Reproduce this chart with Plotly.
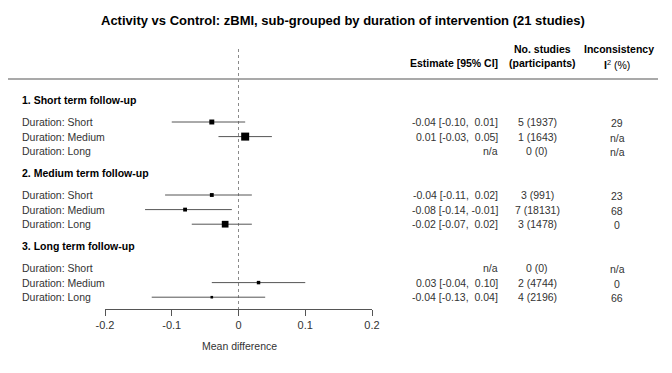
import plotly.graph_objects as go

# ---------------- data ----------------
title = "Activity vs Control: zBMI, sub-grouped by duration of intervention (21 studies)"
groups = ["1. Short term follow-up", "2. Medium term follow-up", "3. Long term follow-up"]
durations = ["Duration: Short", "Duration: Medium", "Duration: Long"]
estimate = [[-0.04, 0.01, None], [-0.04, -0.08, -0.02], [None, 0.03, -0.04]]
ci_low = [[-0.10, -0.03, None], [-0.11, -0.14, -0.07], [None, -0.04, -0.13]]
ci_high = [[0.01, 0.05, None], [0.02, -0.01, 0.02], [None, 0.10, 0.04]]
n_studies = [[5, 1, 0], [3, 7, 3], [0, 2, 4]]
participants = [[1937, 1643, 0], [991, 18131, 1478], [0, 4744, 2196]]
i_squared = [["29", "n/a", "n/a"], ["23", "68", "0"], ["n/a", "0", "66"]]
tick_values = [-0.2, -0.1, 0, 0.1, 0.2]
tick_labels = ["-0.2", "-0.1", "0", "0.1", "0.2"]

# ---------------- layout helpers ----------------
W, H = 672, 373
OFF = 8                    # page body margin of the html wrapper
AXIS_Y = 309               # page pixel row of the x axis line
PLOT_BOTTOM = AXIS_Y - OFF
FONT = "Liberation Sans, Arial, sans-serif"
TXT = "#333333"
FS = 10.5
NB = "\u00a0"

def px(xpage):
    return (xpage - OFF) / W

def py(ypage):
    return (PLOT_BOTTOM - (ypage - OFF)) / PLOT_BOTTOM

def yd(ypage):
    return ypage - OFF

def header_y(g):
    return 100 + 73 * g

def row_y(g, i):
    return header_y(g) + 22 + 14.6 * i

def fmt(v):
    s = f"{v:.2f}"
    return s if v < 0 else NB + s

fig = go.Figure()

# zero reference line
fig.add_trace(go.Scatter(x=[0, 0], y=[yd(49), PLOT_BOTTOM], mode="lines",
                         line=dict(color="#8a8a8a", width=1, dash="dot"),
                         hoverinfo="skip", showlegend=False))

annotations = []
for g, gname in enumerate(groups):
    annotations.append(dict(x=px(20), y=py(header_y(g)), xref="paper", yref="paper",
                            text=f"<b>{gname}</b>",
                            xanchor="left", yanchor="middle", showarrow=False,
                            font=dict(size=FS, color="black", family=FONT)))
    for i, dname in enumerate(durations):
        y = row_y(g, i)
        annotations.append(dict(x=px(20), y=py(y), xref="paper", yref="paper", text=dname,
                                xanchor="left", yanchor="middle", showarrow=False,
                                font=dict(size=FS, color=TXT, family=FONT)))
        e, lo, hi = estimate[g][i], ci_low[g][i], ci_high[g][i]
        if e is None:
            est_txt = "n/a"
        else:
            est_txt = f"{fmt(e)} [{lo:.2f}, {fmt(hi)}]"
            width = hi - lo
            size = 0.181 / width ** 1.5
            fig.add_trace(go.Scatter(x=[lo, hi], y=[yd(y), yd(y)], mode="lines",
                                     line=dict(color="#555555", width=1),
                                     hoverinfo="skip", showlegend=False))
            fig.add_trace(go.Scatter(x=[e], y=[yd(y)], mode="markers",
                                     marker=dict(symbol="square", size=size, color="black",
                                                 line=dict(width=0)),
                                     hoverinfo="skip", showlegend=False))
        annotations.append(dict(x=px(500), y=py(y), xref="paper", yref="paper", text=est_txt,
                                xanchor="right", yanchor="middle", showarrow=False,
                                font=dict(size=FS, color=TXT, family=FONT)))
        annotations.append(dict(x=px(537), y=py(y), xref="paper", yref="paper",
                                text=f"{n_studies[g][i]} ({participants[g][i]})",
                                xanchor="center", yanchor="middle", showarrow=False,
                                font=dict(size=FS, color=TXT, family=FONT)))
        annotations.append(dict(x=px(617), y=py(y + 1), xref="paper", yref="paper",
                                text=i_squared[g][i],
                                xanchor="center", yanchor="middle", showarrow=False,
                                font=dict(size=FS, color=TXT, family=FONT)))

# headers
hdr = dict(xref="paper", yref="paper", showarrow=False, yanchor="middle",
           font=dict(size=FS, color="black", family=FONT))
annotations += [
    dict(hdr, x=px(343), y=py(20), text=f"<b>{title}</b>", xanchor="center",
         font=dict(size=13, color="black", family=FONT)),
    dict(hdr, x=px(500), y=py(63), text="<b>Estimate [95% CI]</b>", xanchor="right"),
    dict(hdr, x=px(542), y=py(49), text="<b>No. studies</b>", xanchor="center"),
    dict(hdr, x=px(542), y=py(63), text="<b>(participants)</b>", xanchor="center"),
    dict(hdr, x=px(619), y=py(49), text="<b>Inconsistency</b>", xanchor="center"),
    dict(hdr, x=px(617), y=py(64), text="<b>I</b><sup>2</sup> (%)", xanchor="center"),
    dict(hdr, x=px(239), y=py(346), text="Mean difference", xanchor="center",
         font=dict(size=FS, color=TXT, family=FONT)),
]

fig.add_shape(type="line", xref="paper", yref="y", x0=0, x1=px(658), y0=yd(79), y1=yd(79),
              line=dict(color="#8c8c8c", width=1.5))

fig.update_layout(
    width=W, height=H,
    margin=dict(l=0, r=0, t=0, b=H - PLOT_BOTTOM, pad=0, autoexpand=False),
    paper_bgcolor="white", plot_bgcolor="white",
    showlegend=False,
    annotations=annotations,
    xaxis=dict(domain=[px(105), px(372)], range=[-0.2, 0.2], showgrid=False, zeroline=False,
               showline=True, linecolor="#555555", linewidth=1,
               ticks="outside", ticklen=6, tickcolor="#555555", tickwidth=1,
               tickvals=tick_values, ticktext=tick_labels,
               tickfont=dict(size=11, color=TXT, family=FONT), fixedrange=True),
    yaxis=dict(range=[PLOT_BOTTOM, 0], visible=False, showgrid=False, zeroline=False,
               fixedrange=True),
)

fig.write_html("out.html")
